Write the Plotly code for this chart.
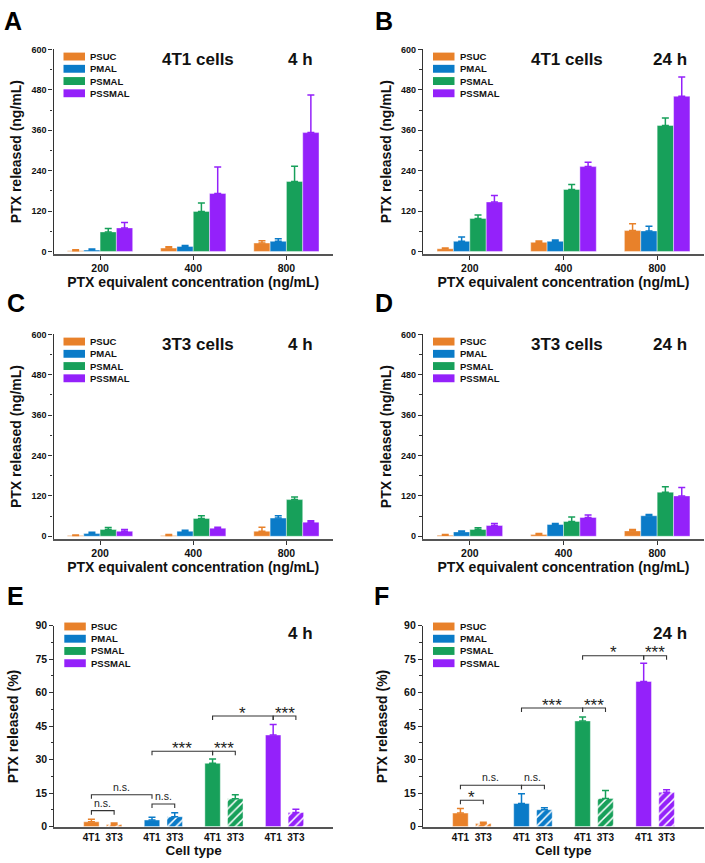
import plotly.graph_objects as go

W, H = 705, 863

# ---------------- data ----------------
formulations = ["PSUC", "PMAL", "PSMAL", "PSSMAL"]
concentrations = ["200", "400", "800"]
cell_types = ["4T1", "3T3"]

# Panel A: 4T1 cells, 4 h  (ng/mL)  rows = formulations, cols = concentrations
a_mean = [[2, 10, 25], [4, 15, 30], [58, 119, 208], [70, 172, 353]]
a_sd = [[3, 4, 7], [3, 3, 8], [10, 25, 45], [16, 79, 112]]
# Panel B: 4T1 cells, 24 h
b_mean = [[8, 27, 62], [30, 30, 61], [98, 184, 374], [147, 252, 461]]
b_sd = [[2, 4, 20], [13, 4, 14], [10, 15, 22], [19, 13, 57]]
# Panel C: 3T3 cells, 4 h
c_mean = [[2, 2, 15], [8, 15, 54], [20, 53, 109], [15, 24, 42]]
c_sd = [[2, 3, 12], [4, 3, 7], [6, 8, 8], [5, 3, 4]]
# Panel D: 3T3 cells, 24 h
d_mean = [[3, 5, 16], [13, 35, 61], [20, 44, 131], [32, 56, 120]]
d_sd = [[2, 3, 4], [3, 3, 4], [5, 13, 16], [6, 7, 25]]

# Panel E: 4 h, % released; rows = formulations, cols = [4T1, 3T3]
e_mean = [[2.1, 0.9], [2.9, 4.4], [28.3, 12.4], [41.0, 6.3]]
e_sd = [[1.1, 0.7], [1.2, 1.8], [1.9, 1.8], [4.7, 1.4]]
# Panel F: 24 h
f_mean = [[6.0, 1.3], [10.3, 7.5], [47.3, 12.5], [65.0, 15.3]]
f_sd = [[2.1, 0.6], [4.4, 0.9], [1.8, 3.6], [8.2, 1.2]]

# significance brackets: (formulation a, cell a, formulation b, cell b, height, label)
e_sig = [
    ("PSUC", "4T1", "PSUC", "3T3", 7.1, "n.s."),
    ("PSUC", "4T1", "PMAL", "4T1", 14.2, "n.s."),
    ("PMAL", "4T1", "PMAL", "3T3", 10.1, "n.s."),
    ("PMAL", "4T1", "PSMAL", "4T1", 33.7, "***"),
    ("PSMAL", "4T1", "PSMAL", "3T3", 33.7, "***"),
    ("PSMAL", "4T1", "PSSMAL", "4T1", 49.5, "*"),
    ("PSSMAL", "4T1", "PSSMAL", "3T3", 49.5, "***"),
]
f_sig = [
    ("PSUC", "4T1", "PSUC", "3T3", 11.8, "*"),
    ("PSUC", "4T1", "PMAL", "4T1", 18.5, "n.s."),
    ("PMAL", "4T1", "PMAL", "3T3", 18.5, "n.s."),
    ("PMAL", "4T1", "PSMAL", "4T1", 53.1, "***"),
    ("PSMAL", "4T1", "PSMAL", "3T3", 53.1, "***"),
    ("PSMAL", "4T1", "PSSMAL", "4T1", 76.5, "*"),
    ("PSSMAL", "4T1", "PSSMAL", "3T3", 76.5, "***"),
]

# ---------------- style ----------------
colors = ["#E8812A", "#0A7BC8", "#17A05A", "#9421FA"]
FONT = "Liberation Sans, Arial, sans-serif"
AXIS_COL = "#333333"
XLINE_COL = "#555555"


def px_x(px):
    return px / W


def px_y(py):
    return 1 - py / H


conc_panels = [
    dict(letter="A", n=1, mean=a_mean, sd=a_sd, cell="4T1 cells", time="4 h",
         xd=(53.5, 333), yd=(44, 251), letter_pos=(12.5, 15.3)),
    dict(letter="B", n=2, mean=b_mean, sd=b_sd, cell="4T1 cells", time="24 h",
         xd=(423, 704), yd=(44, 251), letter_pos=(383.7, 15.3)),
    dict(letter="C", n=3, mean=c_mean, sd=c_sd, cell="3T3 cells", time="4 h",
         xd=(53.5, 333), yd=(332.7, 539.5), letter_pos=(15.5, 300.5)),
    dict(letter="D", n=4, mean=d_mean, sd=d_sd, cell="3T3 cells", time="24 h",
         xd=(423, 704), yd=(332.7, 539.5), letter_pos=(384, 300.5)),
]
pct_panels = [
    dict(letter="E", n=5, mean=e_mean, sd=e_sd, sig=e_sig, time="4 h",
         xd=(54.3, 333), yd=(627.7, 832), letter_pos=(15, 597.7)),
    dict(letter="F", n=6, mean=f_mean, sd=f_sd, sig=f_sig, time="24 h",
         xd=(423, 704), yd=(627.7, 832), letter_pos=(381, 597.7)),
]

fig = go.Figure()
shapes = []
annotations = []
layout_axes = {}


def ax_names(n):
    s = "" if n == 1 else str(n)
    return "x" + s, "y" + s, "xaxis" + s, "yaxis" + s


def add_legend(xd, top_px, first_offset):
    left = xd[0]
    for j, name in enumerate(formulations):
        cy = top_px + first_offset + j * 12.4
        shapes.append(dict(type="rect", xref="paper", yref="paper",
                           x0=px_x(left + 10), x1=px_x(left + 31.5),
                           y0=px_y(cy + 4), y1=px_y(cy - 4),
                           fillcolor=colors[j], line=dict(width=0)))
        annotations.append(dict(xref="paper", yref="paper", x=px_x(left + 34.5), y=px_y(cy),
                                xanchor="left", yanchor="middle", showarrow=False,
                                text=name, font=dict(family=FONT, size=9.5, color="#111", weight="bold")))


def common_y(domain_px, rng, dtick, minor, tickfont_size):
    return dict(domain=[px_y(domain_px[1]), px_y(domain_px[0])], range=rng,
                showline=True, linecolor=AXIS_COL, linewidth=1.2,
                ticks="outside", ticklen=4, tickwidth=1, tickcolor=AXIS_COL,
                dtick=dtick, tick0=0, showgrid=False, zeroline=False,
                minor=dict(ticks="outside", ticklen=2.5, dtick=minor, tickcolor=AXIS_COL, tickwidth=1),
                tickfont=dict(family=FONT, size=tickfont_size, color="#111", weight="bold"),
                )


# ---------- concentration panels ----------
for p in conc_panels:
    xs, ys, xk, yk = ax_names(p["n"])
    for j, name in enumerate(formulations):
        fig.add_trace(go.Bar(
            x=concentrations, y=p["mean"][j], name=name, showlegend=False,
            xaxis=xs, yaxis=ys,
            marker=dict(color=colors[j], line=dict(color="rgba(255,255,255,0.7)", width=0.6)),
            error_y=dict(type="data", symmetric=False, array=p["sd"][j],
                         arrayminus=[0] * len(concentrations),
                         color=colors[j], thickness=1.5, width=3.5),
        ))
    layout_axes[xk] = dict(domain=[px_x(p["xd"][0]), px_x(p["xd"][1])], anchor=ys,
                           type="category", range=[-0.5, 2.5],
                           showline=True, linecolor=XLINE_COL, linewidth=1.8,
                           ticks="outside", ticklen=4, tickcolor=AXIS_COL, showgrid=False,
                           tickfont=dict(family=FONT, size=10.5, color="#111", weight="bold"),
                           title=dict(text="PTX equivalent concentration (ng/mL)", standoff=2,
                                      font=dict(family=FONT, size=14, color="#111", weight="bold")))
    yax = common_y(p["yd"], [-7, 600], 120, 60, 9)
    yax["anchor"] = xs
    yax["title"] = dict(text="PTX released (ng/mL)", standoff=6,
                        font=dict(family=FONT, size=14, color="#111", weight="bold"))
    layout_axes[yk] = yax
    top = p["yd"][0]
    add_legend(p["xd"], top, 7.2)
    annotations.append(dict(xref="paper", yref="paper", x=px_x(p["xd"][0] + 144), y=px_y(top + 10.3),
                            text=p["cell"], showarrow=False, xanchor="center", yanchor="middle",
                            font=dict(family=FONT, size=17, color="#111", weight="bold")))
    annotations.append(dict(xref="paper", yref="paper", x=px_x(p["xd"][0] + 246.5), y=px_y(top + 10.3),
                            text=p["time"], showarrow=False, xanchor="center", yanchor="middle",
                            font=dict(family=FONT, size=17, color="#111", weight="bold")))

# ---------- percentage panels ----------
slot = 0.375
bar_w = 0.255
cell_offsets = [-slot / 2, slot / 2]

for p in pct_panels:
    xs, ys, xk, yk = ax_names(p["n"])
    for j, name in enumerate(formulations):
        for k, cell in enumerate(cell_types):
            marker = dict(color=colors[j], line=dict(color="rgba(255,255,255,0.7)", width=0.6))
            if k == 1:
                marker["pattern"] = dict(shape="/", fgcolor="white", bgcolor=colors[j],
                                         size=6, solidity=0.25, fillmode="replace")
            fig.add_trace(go.Bar(
                x=[name], y=[p["mean"][j][k]], name=f"{name} {cell}", showlegend=False,
                xaxis=xs, yaxis=ys, width=bar_w, offset=cell_offsets[k] - bar_w / 2,
                marker=marker,
                error_y=dict(type="data", symmetric=False, array=[p["sd"][j][k]], arrayminus=[0],
                             color=colors[j], thickness=1.5, width=3.5),
            ))
    layout_axes[xk] = dict(domain=[px_x(p["xd"][0]), px_x(p["xd"][1])], anchor=ys,
                           type="category", range=[-0.8, 3.8],
                           showline=True, linecolor=XLINE_COL, linewidth=1.8,
                           ticks="", ticklen=0, showgrid=False,
                           tickvals=formulations,
                           ticktext=["\u00a0\u00a0".join(cell_types)] * len(formulations),
                           tickfont=dict(family=FONT, size=10, color="#111", weight="bold"),
                           title=dict(text="Cell type", standoff=0,
                                      font=dict(family=FONT, size=13.5, color="#111", weight="bold")))
    yax = common_y(p["yd"], [-0.4, 90], 15, 7.5, 10.5)
    yax["anchor"] = xs
    yax["title"] = dict(text="PTX released (%)", standoff=13,
                        font=dict(family=FONT, size=14, color="#111", weight="bold"))
    layout_axes[yk] = yax
    top = p["yd"][0]
    add_legend(p["xd"], top, 0.8)
    annotations.append(dict(xref="paper", yref="paper", x=px_x(p["xd"][0] + 246.5), y=px_y(top + 7.5),
                            text=p["time"], showarrow=False, xanchor="center", yanchor="middle",
                            font=dict(family=FONT, size=17, color="#111", weight="bold")))
    # significance brackets
    for fa, ca, fb, cb, hgt, lab in p["sig"]:
        x0 = formulations.index(fa) + cell_offsets[cell_types.index(ca)]
        x1 = formulations.index(fb) + cell_offsets[cell_types.index(cb)]
        d = 1.8
        shapes.append(dict(type="path", xref=xs, yref=ys,
                           path=f"M {x0},{hgt - d} L {x0},{hgt} L {x1},{hgt} L {x1},{hgt - d}",
                           line=dict(color="#333", width=1.1)))
        if lab == "n.s.":
            annotations.append(dict(xref=xs, yref=ys, x=(x0 + x1) / 2, y=hgt, yshift=8,
                                    text=lab, showarrow=False, xanchor="center", yanchor="middle",
                                    font=dict(family=FONT, size=10.5, color="#222")))
        else:
            annotations.append(dict(xref=xs, yref=ys, x=(x0 + x1) / 2, y=hgt, yshift=3,
                                    text=lab, showarrow=False, xanchor="center", yanchor="middle",
                                    font=dict(family=FONT, size=17, color="#222")))

# panel letters
for p in conc_panels + pct_panels:
    lx, ly = p["letter_pos"]
    annotations.append(dict(xref="paper", yref="paper", x=px_x(lx), y=px_y(ly),
                            text=p["letter"], showarrow=False, xanchor="center", yanchor="middle",
                            font=dict(family=FONT, size=25, color="#000", weight="bold")))

fig.update_layout(
    width=W, height=H, margin=dict(l=0, r=0, t=0, b=0),
    paper_bgcolor="white", plot_bgcolor="white",
    barmode="group", bargap=0.3, bargroupgap=0.0,
    showlegend=False,
    shapes=shapes, annotations=annotations,
    font=dict(family=FONT, color="#111"),
    **layout_axes,
)

fig.write_html("out.html", config={"displayModeBar": False},
               post_script="document.body.style.margin='0';document.body.style.overflow='hidden';")
